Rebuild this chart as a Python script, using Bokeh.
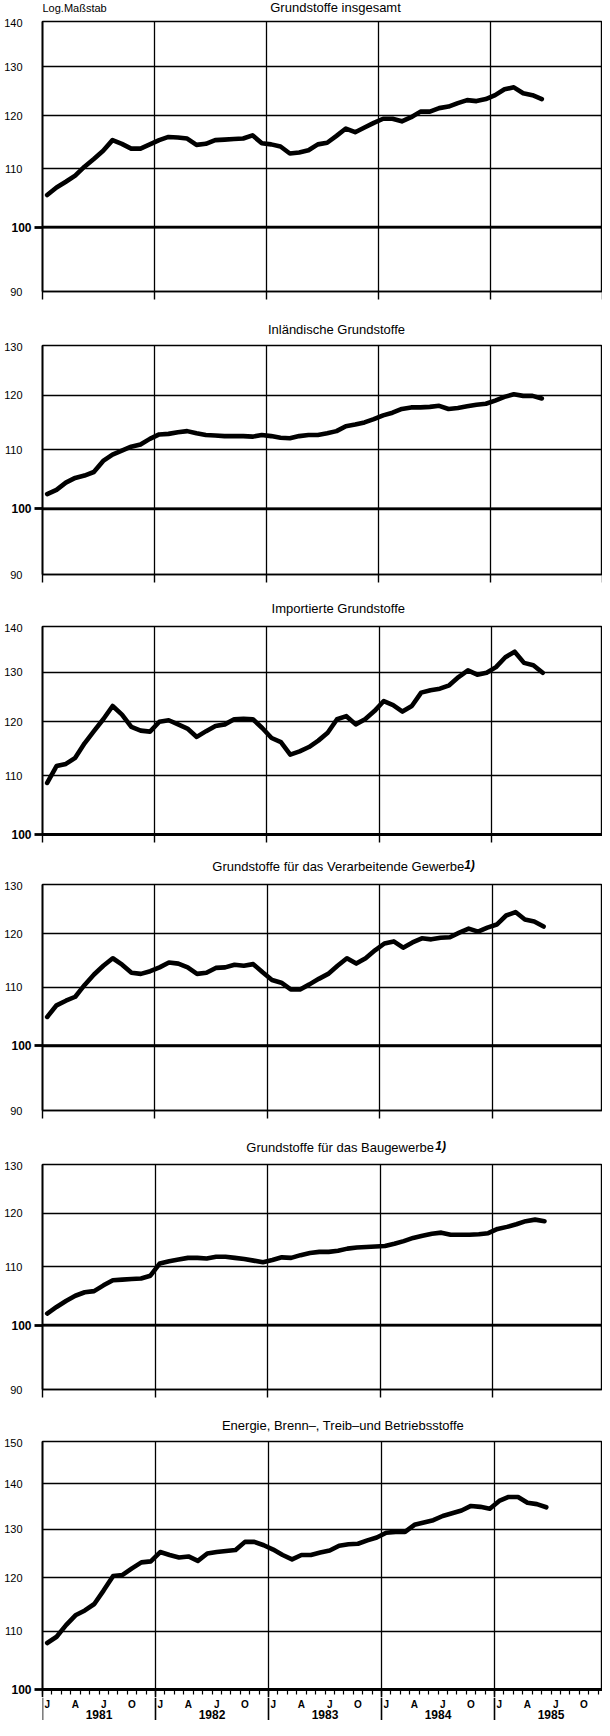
import math
from bokeh.plotting import figure
from bokeh.models import (Range1d, LogAxis, LinearAxis, FixedTicker, Grid, Span)
from bokeh.layouts import column
from bokeh.embed import file_html
from bokeh.resources import INLINE
from bokeh.core.properties import value

# ---------------- data (monthly, Jan 1981 .. Jun 1985, log scale) ----------------
months = list(range(54))
month_letters = ["J", "A", "J", "O"]
month_letter_pos = [0, 3, 6, 9]
years = ["1981", "1982", "1983", "1984", "1985"]

insgesamt = [105.4, 106.7, 107.7, 108.8, 110.4, 111.8, 113.3, 115.3, 114.6, 113.7, 113.7, 114.5,
             115.3, 115.9, 115.8, 115.6, 114.4, 114.6, 115.3, 115.4, 115.5, 115.6, 116.2, 114.7,
             114.5, 114.1, 112.8, 113.0, 113.4, 114.5, 114.8, 116.1, 117.5, 116.8, 117.7, 118.6,
             119.4, 119.4, 118.9, 119.7, 120.8, 120.8, 121.5, 121.8, 122.5, 123.1, 122.9, 123.3,
             124.1, 125.3, 125.7, 124.5, 124.1, 123.3]
inlaendisch = [102.4, 103.1, 104.3, 105.1, 105.5, 106.1, 108.0, 109.1, 109.8, 110.5, 110.9, 111.9,
               112.7, 112.8, 113.1, 113.3, 112.9, 112.6, 112.5, 112.4, 112.4, 112.4, 112.3, 112.6,
               112.4, 112.1, 112.0, 112.4, 112.6, 112.6, 112.9, 113.3, 114.2, 114.5, 114.9, 115.5,
               116.2, 116.7, 117.4, 117.7, 117.7, 117.8, 118.0, 117.4, 117.6, 117.9, 118.2, 118.4,
               119.0, 119.7, 120.2, 119.9, 119.9, 119.4]
importiert = [108.7, 111.7, 112.1, 113.2, 115.9, 118.2, 120.5, 123.1, 121.4, 119.0, 118.3, 118.1,
              120.0, 120.3, 119.5, 118.7, 117.1, 118.2, 119.2, 119.5, 120.5, 120.6, 120.5, 118.8,
              116.9, 116.1, 113.8, 114.4, 115.2, 116.4, 117.9, 120.5, 121.1, 119.5, 120.5, 122.1,
              124.1, 123.3, 122.0, 123.1, 125.8, 126.3, 126.6, 127.3, 129.0, 130.4, 129.5, 129.9,
              131.1, 133.2, 134.4, 132.0, 131.5, 129.9]
verarbeitend = [104.8, 106.8, 107.6, 108.3, 110.4, 112.3, 113.9, 115.3, 114.1, 112.6, 112.4, 112.9,
                113.6, 114.5, 114.3, 113.6, 112.4, 112.6, 113.5, 113.6, 114.1, 113.9, 114.2, 112.7,
                111.3, 110.8, 109.6, 109.6, 110.5, 111.5, 112.4, 113.9, 115.3, 114.3, 115.3, 116.8,
                118.1, 118.5, 117.3, 118.3, 119.1, 118.9, 119.2, 119.3, 120.2, 121.0, 120.4, 121.2,
                121.8, 123.6, 124.3, 122.8, 122.4, 121.4]
baugewerbe = [101.9, 103.0, 104.0, 104.9, 105.5, 105.7, 106.7, 107.6, 107.7, 107.8, 107.9, 108.4,
              110.6, 111.0, 111.3, 111.6, 111.6, 111.5, 111.8, 111.8, 111.6, 111.4, 111.1, 110.8,
              111.2, 111.7, 111.6, 112.1, 112.5, 112.7, 112.7, 112.9, 113.3, 113.5, 113.6, 113.7,
              113.8, 114.2, 114.7, 115.3, 115.7, 116.1, 116.3, 115.9, 115.9, 115.9, 116.0, 116.2,
              117.0, 117.4, 117.9, 118.5, 118.8, 118.5]
energie = [107.9, 109.0, 111.1, 112.9, 113.8, 115.0, 117.6, 120.4, 120.6, 121.9, 123.1, 123.3,
           125.2, 124.6, 124.1, 124.3, 123.4, 124.9, 125.2, 125.4, 125.6, 127.3, 127.3, 126.6,
           125.7, 124.6, 123.7, 124.6, 124.6, 125.1, 125.5, 126.5, 126.8, 126.9, 127.6, 128.2,
           129.2, 129.4, 129.4, 130.9, 131.4, 131.9, 132.8, 133.4, 134.0, 135.0, 134.8, 134.4,
           136.1, 137.0, 137.0, 135.7, 135.4, 134.7]

titles = ["Grundstoffe insgesamt", "Inländische Grundstoffe", "Importierte Grundstoffe",
          "Grundstoffe für das Verarbeitende Gewerbe", "Grundstoffe für das Baugewerbe",
          "Energie, Brenn–, Treib–und Betriebsstoffe"]
footnotes = [None, None, None, "1)", "1)", None]
scale_note = "Log.Maßstab"
series = [insgesamt, inlaendisch, importiert, verarbeitend, baugewerbe, energie]
y_ticks = [[90, 100, 110, 120, 130, 140], [90, 100, 110, 120, 130], [100, 110, 120, 130, 140],
           [90, 100, 110, 120, 130], [90, 100, 110, 120, 130], [100, 110, 120, 130, 140, 150]]

# ---------------- layout (page pixels) ----------------
FONT = "Liberation Sans"
W = 602
PXM = 113.0 / 12.0          # pixels per month
strip_h = [18, 32, 31, 31, 31, 28]          # title strip heights
strip_dy = [7, 19, 16, 16, 17, 15]          # title centre below strip top
title_x = [323, 324, 326, 326, 328, 331]    # title centre (page x)
foot_x = [None, None, None, 467, 436, None]
frame_h = [270, 229, 208, 226, 225, 248]
bot_b = [19, 18, 16, 20, 21, 8]
left_b = [37, 37, 38, 39, 40, 42]
TOP_B = 3
BH = 23                                     # month/year strip height


def hide_default_grids(p):
    for r in list(p.center):
        if isinstance(r, Grid):
            r.visible = False


figs = []
p6 = None
for i in range(6):
    # ---- title strip ----
    sh = strip_h[i]
    s = figure(width=W, height=sh, x_range=Range1d(8, 8 + W), y_range=Range1d(0, sh),
               x_axis_location=None, y_axis_location=None, toolbar_location=None,
               output_backend="svg", min_border=0, outline_line_color=None,
               border_fill_color="white", background_fill_color="white", title=None)
    hide_default_grids(s)
    s.text(x=[title_x[i]], y=[sh - strip_dy[i]], text=[titles[i]], text_align="center",
           text_baseline="middle", text_font=value(FONT), text_font_size="13px",
           text_color="black")
    if foot_x[i]:
        s.text(x=[foot_x[i]], y=[sh - strip_dy[i] + 2], text=[footnotes[i]], text_align="center",
               text_baseline="middle", text_font=value(FONT), text_font_size="12px",
               text_font_style="bold italic", text_color="black")
    if i == 0:
        s.text(x=[8], y=[sh - 7], text=[scale_note], text_align="left", text_baseline="middle",
               text_font=value(FONT), text_font_size="11px", text_color="black")
    figs.append(s)

    # ---- panel ----
    lo, hi = y_ticks[i][0], y_ticks[i][-1]
    bl = left_b[i]
    h = TOP_B + frame_h[i] + bot_b[i]
    x_end = (W - bl) / PXM
    p = figure(width=W, height=h, x_range=Range1d(0, x_end), y_range=Range1d(lo, hi),
               y_axis_type="log", x_axis_location=None, y_axis_location=None,
               toolbar_location=None, output_backend="svg", title=None,
               min_border_left=bl, min_border_right=0, min_border_top=TOP_B,
               min_border_bottom=bot_b[i],
               outline_line_color="black", outline_line_width=1.4,
               background_fill_color="white", border_fill_color="white")
    hide_default_grids(p)

    # axis nearest the frame: axis line, long tick and bold label at 100
    ax1 = LogAxis(ticker=FixedTicker(ticks=[100]), major_tick_out=8, major_tick_in=0,
                  major_tick_line_width=2.8, major_tick_line_color="black",
                  minor_tick_line_color=None, major_label_standoff=3,
                  major_label_overrides={100: "100"},
                  major_label_text_font=FONT, major_label_text_font_size="12px",
                  major_label_text_font_style="bold", major_label_text_color="black",
                  axis_line_color="black", axis_line_width=1.8)
    p.add_layout(ax1, "left")
    overrides = {t: str(t) for t in y_ticks[i] if t != 100}
    ax2 = LogAxis(ticker=FixedTicker(ticks=[t for t in y_ticks[i] if t != 100]),
                  major_tick_out=0, major_tick_in=0,
                  major_tick_line_color=None, minor_tick_line_color=None,
                  axis_line_color=None, major_label_standoff=-14,
                  major_label_overrides=overrides,
                  major_label_text_font=FONT, major_label_text_font_size="11px",
                  major_label_text_color="black")
    p.add_layout(ax2, "left")

    yr_ticks = [0, 12, 24, 36, 48, 60]
    if i < 5:
        axb = LinearAxis(ticker=FixedTicker(ticks=yr_ticks), major_tick_out=8,
                         major_tick_in=0, major_tick_line_width=1.4, major_tick_line_color="black",
                         minor_tick_line_color=None, major_label_standoff=0,
                         major_label_overrides={t: "" for t in yr_ticks},
                         axis_line_color="black", axis_line_width=2.8 if lo == 100 else 1.4)
    else:
        axb = LinearAxis(ticker=FixedTicker(ticks=yr_ticks, minor_ticks=list(range(61))),
                         major_tick_out=8, major_tick_in=0, major_tick_line_width=1.6,
                         minor_tick_out=5, minor_tick_in=0, minor_tick_line_width=1.2,
                         major_tick_line_color="black", minor_tick_line_color="black",
                         major_label_standoff=0,
                         major_label_overrides={t: "" for t in yr_ticks},
                         axis_line_color="black", axis_line_width=2.8)
    p.add_layout(axb, "below")

    p.add_layout(Grid(dimension=0, ticker=FixedTicker(ticks=[12, 24, 36, 48]),
                      grid_line_color="black", grid_line_width=1.3))
    p.add_layout(Grid(dimension=1, ticker=FixedTicker(ticks=y_ticks[i]),
                      grid_line_color="black", grid_line_width=1.3))
    p.add_layout(Span(location=100, dimension="width", line_color="black", line_width=2.8))

    p.line([m + 0.5 for m in months], series[i], line_color="black", line_width=4.6,
           line_join="round", line_cap="round")
    figs.append(p)
    p6 = p

# ---------------- month / year labels under the last panel ----------------
bl6 = left_b[5]
p7 = figure(width=W, height=BH, x_range=p6.x_range, y_range=Range1d(0, BH),
            x_axis_location=None, y_axis_location=None, toolbar_location=None,
            output_backend="svg", min_border_left=bl6, min_border_right=0,
            min_border_top=0, min_border_bottom=0, outline_line_color=None,
            border_fill_color="white", background_fill_color="white", title=None)
hide_default_grids(p7)
yr_lines = [0, 12, 24, 36, 48, 60]
p7.segment(x0=yr_lines, y0=[0] * 6, x1=yr_lines, y1=[BH] * 6, line_color="black",
           line_width=1.6)
lx, lt = [], []
for k in range(5):
    for pos, let in zip(month_letter_pos, month_letters):
        lx.append(12 * k + pos + 0.5)
        lt.append(let)
p7.text(x=lx, y=[BH - 7] * len(lx), text=lt, text_align="center", text_baseline="middle",
        text_font=value(FONT), text_font_size="10px", text_font_style="bold", text_color="black")
p7.text(x=[12 * k + 6 for k in range(5)], y=[6.5] * 5, text=years, text_align="center",
        text_baseline="middle", text_font=value(FONT), text_font_size="12px",
        text_font_style="bold", text_color="black")
figs.append(p7)

layout = column(*figs, spacing=0)
open("out.html", "w").write(file_html(layout, INLINE))
